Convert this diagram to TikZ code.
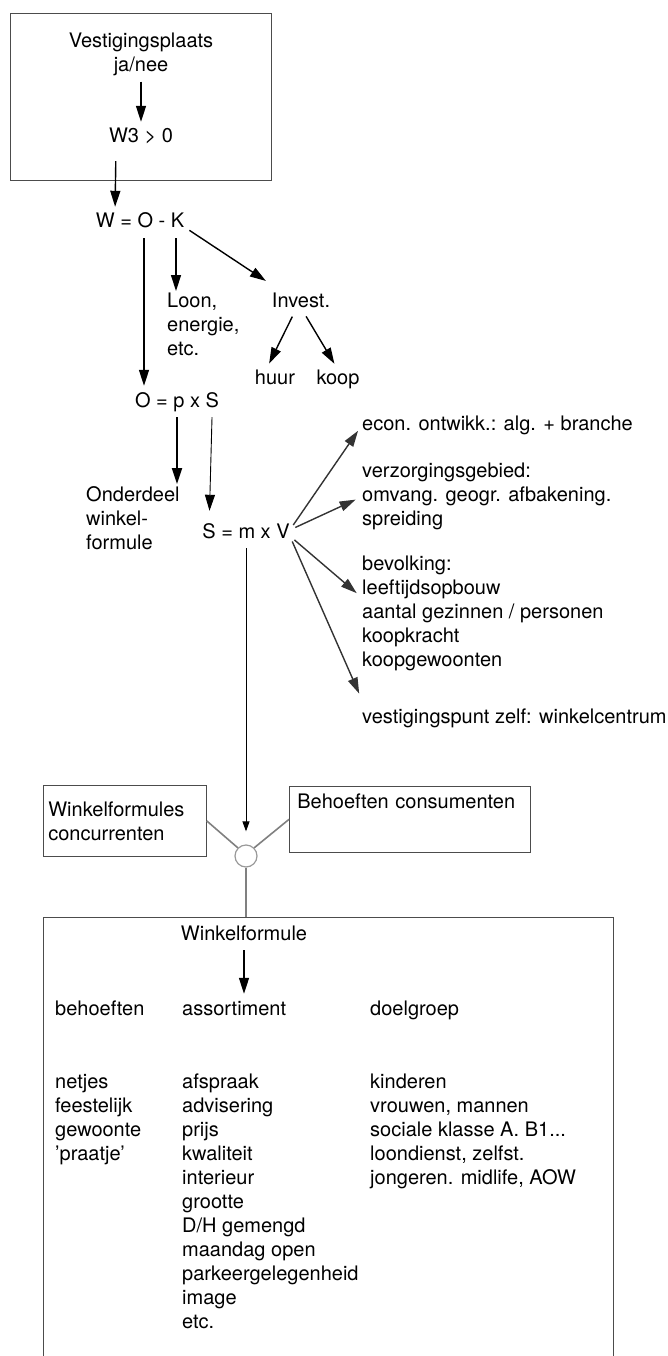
\documentclass[tikz,border=0pt]{standalone}
\usepackage{fontspec}
\setmainfont{TeX Gyre Heros}
\usetikzlibrary{arrows.meta,positioning}

\begin{document}
\begin{tikzpicture}[
    x=1pt, y=-1pt,
    font=\fontsize{20}{24}\selectfont,
    lbl/.style={
        inner sep=0pt,
        text height=14pt,
        text depth=4pt
    },
    lines/.style={
        inner sep=0pt,
        align=left,
        anchor=north west
    },
    frame/.style={
        draw=black!70,
        line width=0.7pt
    },
    arrow/.style={
        -{Triangle[length=16pt,width=10pt]},
        line width=1.4pt,
        shorten >=7pt,
        shorten <=6pt
    },
    fanarrow/.style={
        arrow,
        draw=black!80,
        line width=1.4pt
    },
    link/.style={
        draw=black!50,
        line width=1.6pt
    },
    junction/.style={
        circle,
        draw=black!40,
        line width=1.2pt,
        minimum size=22pt,
        inner sep=0pt
    }
]
\useasboundingbox (0,0) rectangle (668,1356);

% Location box
\node[frame, minimum width=261pt, minimum height=167pt, inner sep=0pt] (locbox) at (140.5,96.5) {};
\node[inner sep=0pt, align=center] (vest) at (141,54) {Vestigingsplaats\\ja/nee};
\node[lbl] (w3) at (141,138) {W3 > 0};
\draw[arrow] (vest.south) -- (w3.north);

% Profit = turnover - costs
\node[lbl] (wok) at (140,223) {W = O - K};
\draw[arrow, shorten <=14pt] ([xshift=-25pt]w3.south) -- ([xshift=-25pt]wok.north);
\node[lines] (loon) at (167,293) {Loon,\\energie,\\etc.};
\draw[arrow, shorten >=2pt] ([xshift=36pt]wok.south) -- ([xshift=9pt]loon.north west);
\node[lbl] (invest) at (301,302) {Invest.};
\draw[arrow] ([yshift=-4pt]wok.east) -- ([yshift=8pt]invest.north west);
\node[lbl] (huur) at (275,379) {huur};
\node[lbl] (koop) at (338,379) {koop};
\draw[arrow] ([xshift=-6pt]invest.south) -- ([xshift=-9pt]huur.north);
\draw[arrow] ([xshift=2pt]invest.south) -- (koop.north);

% Turnover
\node[lbl] (ops) at (177,402) {O = p x S};
\draw[arrow] ([xshift=4pt]wok.south) -- ([xshift=-33pt]ops.north);
\node[lines] (onder) at (86,486) {Onderdeel\\winkel-\\formule};
\draw[arrow, line width=2pt, shorten >=2pt] (ops.south) -- (ops.south |- onder.north);
\node[lbl] (smv) at (246,533) {S = m x V};
\draw[arrow, line width=0.9pt, shorten >=13pt] ([xshift=-7pt]ops.south east) -- ([xshift=7pt]smv.north west);

% Factors behind S
\node[lbl, anchor=west] (econ) at (362,425) {econ. ontwikk.: alg. + branche};
\node[lines] (verz) at (362,463) {verzorgingsgebied:\\omvang. geogr. afbakening.\\spreiding};
\node[lines] (bevolk) at (362,556) {bevolking:\\leeftijdsopbouw\\aantal gezinnen / personen\\koopkracht\\koopgewoonten};
\node[lbl, anchor=west] (vpunt) at (362,718) {vestigingspunt zelf: winkelcentrum};
\draw[fanarrow] ([yshift=3pt]smv.east) -- (econ.west);
\draw[fanarrow] ([yshift=3pt]smv.east) -- (verz.west);
\draw[fanarrow] ([yshift=-3pt]smv.east) -- ([yshift=16pt]bevolk.west);
\draw[fanarrow] ([yshift=-3pt]smv.east) -- ([yshift=18pt]vpunt.west);

% Competitors and consumers meet
\node[frame, anchor=north west, text width=153pt, inner xsep=5pt, minimum height=71pt, align=left] (conc) at (43,785) {Winkelformules\\concurrenten};
\node[frame, anchor=north west, text width=225pt, inner xsep=8pt, inner ysep=8pt, text height=14pt, text depth=36pt] (cons) at (289,786) {Behoeften consumenten};
\node[junction] (junc) at (246,856) {};
\draw[arrow, -{Triangle[length=10pt,width=7pt]}, line width=1pt, shorten >=13pt] (smv.south) -- (junc.north);
\draw[link] (conc.east) -- (junc.north west);
\draw[link] (cons.west) -- (junc.north east);

% Store formula
\draw[frame] (43,1356) |- (613,917) -- (613,1356);
\coordinate (wftop) at (246,917);
\draw[link] (junc.south) -- (wftop);
\node[lbl] (wf) at (244,935) {Winkelformule};
\node[lbl, anchor=west] (behoef) at (55,1010) {behoeften};
\node[lbl, anchor=west] (assort) at (182,1010) {assortiment};
\node[lbl, anchor=west] (doel) at (370,1010) {doelgroep};
\draw[arrow] (wf.south) -- (wf.south |- assort.north);

\node[lines] (needs) at (55,1074) {netjes\\feestelijk\\gewoonte\\'praatje'};
\node[lines] (items) at (182,1074) {afspraak\\advisering\\prijs\\kwaliteit\\interieur\\grootte\\D/H gemengd\\maandag open\\parkeergelegenheid\\image\\etc.};
\node[lines] (groups) at (370,1074) {kinderen\\vrouwen, mannen\\sociale klasse A. B1...\\loondienst, zelfst.\\jongeren. midlife, AOW};
\end{tikzpicture}
\end{document}
